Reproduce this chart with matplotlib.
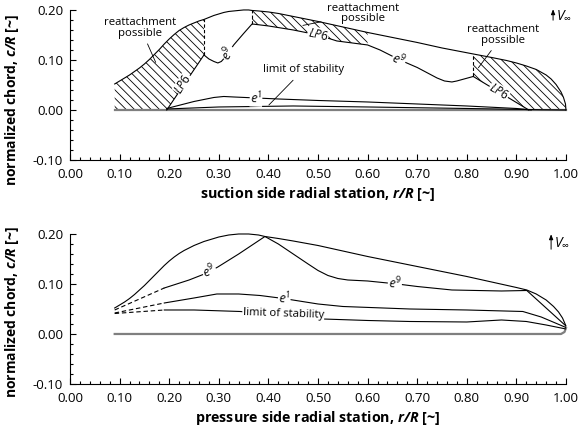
import numpy as np
import matplotlib
matplotlib.use("Agg")
import matplotlib.pyplot as plt

plt.rcParams['font.family'] = ['Open Sans', 'DejaVu Sans']
plt.rcParams['mathtext.fontset'] = 'custom'
plt.rcParams['mathtext.rm'] = 'Open Sans'
plt.rcParams['mathtext.it'] = 'Open Sans:italic'
plt.rcParams['mathtext.bf'] = 'Open Sans:bold'
plt.rcParams['mathtext.bfit'] = 'Open Sans:italic:bold'
plt.rcParams['hatch.linewidth'] = 0.6

# blade outline (chord distribution), suction side plot
out_top_r = [0.09, 0.10, 0.11, 0.12, 0.13, 0.14, 0.15, 0.16, 0.17, 0.18, 0.19, 0.20, 0.21,
             0.22, 0.23, 0.24, 0.25, 0.26, 0.27, 0.28, 0.29, 0.30, 0.31, 0.32, 0.33, 0.34,
             0.35, 0.36, 0.367, 0.38, 0.40, 0.42, 0.45, 0.50, 0.55, 0.60, 0.65, 0.70, 0.75,
             0.813, 0.85, 0.88, 0.90, 0.92, 0.94, 0.96, 0.97, 0.98, 0.99, 0.995, 0.999, 1.0]
out_top_c = [0.052, 0.058, 0.064, 0.070, 0.077, 0.084, 0.092, 0.101, 0.111, 0.121, 0.132,
             0.142, 0.151, 0.159, 0.165, 0.170, 0.174, 0.178, 0.181, 0.185, 0.189, 0.192,
             0.195, 0.197, 0.198, 0.199, 0.200, 0.200, 0.199, 0.198, 0.196, 0.193, 0.187,
             0.177, 0.166, 0.155, 0.145, 0.135, 0.124, 0.112, 0.105, 0.099, 0.094, 0.088,
             0.081, 0.070, 0.062, 0.051, 0.036, 0.025, 0.012, 0.0]
base_top_r = [0.09, 1.0]
base_top_c = [0.0, 0.0]

# transition lines, suction side
lp6_left_r = [0.195, 0.27]
lp6_left_c = [0.0, 0.11]
e9_top_r = [0.27, 0.28, 0.29, 0.298, 0.305, 0.315, 0.33, 0.35, 0.367, 0.40, 0.45, 0.50,
            0.538, 0.60, 0.625, 0.665, 0.70, 0.74, 0.755, 0.77, 0.78, 0.813]
e9_top_c = [0.11, 0.102, 0.097, 0.094, 0.097, 0.108, 0.13, 0.153, 0.172, 0.168, 0.16, 0.15,
            0.138, 0.13, 0.12, 0.10, 0.085, 0.064, 0.058, 0.056, 0.058, 0.067]
lp6_right_r = [0.813, 0.925]
lp6_right_c = [0.067, 0.0]
e1_top_r = [0.195, 0.25, 0.29, 0.31, 0.33, 0.42, 0.50, 0.60, 0.70, 0.80, 0.90, 0.93]
e1_top_c = [0.003, 0.017, 0.025, 0.027, 0.026, 0.022, 0.019, 0.016, 0.012, 0.008, 0.003, 0.0]
stab_top_r = [0.195, 0.30, 0.45, 0.60, 0.80, 0.95, 1.0]
stab_top_c = [0.002, 0.006, 0.008, 0.006, 0.003, 0.0005, 0.0]

# pressure side plot
out_bot_r = [0.09, 0.10, 0.11, 0.12, 0.13, 0.14, 0.15, 0.16, 0.17, 0.18, 0.19, 0.20, 0.21,
             0.22, 0.23, 0.24, 0.25, 0.26, 0.27, 0.28, 0.29, 0.30, 0.31, 0.32, 0.33, 0.34,
             0.35, 0.36, 0.38, 0.393, 0.42, 0.45, 0.50, 0.55, 0.60, 0.65, 0.70, 0.75, 0.80,
             0.85, 0.90, 0.921, 0.94, 0.96, 0.975, 0.985, 0.993, 1.0]
out_bot_c = [0.052, 0.058, 0.064, 0.071, 0.079, 0.088, 0.097, 0.107, 0.117, 0.127, 0.137,
             0.146, 0.154, 0.161, 0.167, 0.172, 0.177, 0.181, 0.185, 0.188, 0.191, 0.194,
             0.196, 0.198, 0.199, 0.2, 0.2, 0.2, 0.198, 0.195, 0.191, 0.186, 0.177, 0.166,
             0.155, 0.145, 0.135, 0.125, 0.115, 0.104, 0.093, 0.088, 0.080, 0.068, 0.055,
             0.044, 0.032, 0.016]
base_bot_r = [0.09, 0.99, 0.997, 1.0]
base_bot_c = [0.0, 0.0, 0.004, 0.012]
e9_bot_dash_r = [0.09, 0.19]
e9_bot_dash_c = [0.048, 0.092]
e9_bot_r = [0.19, 0.24, 0.276, 0.298, 0.34, 0.393, 0.42, 0.45, 0.48, 0.50, 0.52, 0.54,
            0.56, 0.60, 0.66, 0.70, 0.77, 0.87, 0.921, 1.0]
e9_bot_c = [0.092, 0.108, 0.122, 0.134, 0.16, 0.195, 0.18, 0.16, 0.14, 0.127, 0.117, 0.111,
            0.108, 0.106, 0.10, 0.095, 0.088, 0.086, 0.087, 0.016]
e1_bot_dash_r = [0.09, 0.19]
e1_bot_dash_c = [0.042, 0.062]
e1_bot_r = [0.19, 0.25, 0.296, 0.34, 0.383, 0.43, 0.50, 0.55, 0.685, 0.80, 0.913, 0.95, 1.0]
e1_bot_c = [0.062, 0.072, 0.08, 0.08, 0.077, 0.071, 0.06, 0.055, 0.05, 0.048, 0.045, 0.034,
            0.013]
stab_bot_dash_r = [0.09, 0.19]
stab_bot_dash_c = [0.041, 0.048]
stab_bot_r = [0.19, 0.25, 0.343, 0.42, 0.51, 0.60, 0.685, 0.80, 0.87, 0.92, 0.96, 1.0]
stab_bot_c = [0.048, 0.048, 0.045, 0.038, 0.03, 0.027, 0.025, 0.024, 0.028, 0.025, 0.018,
              0.01]

xticks = [0.0, 0.1, 0.2, 0.3, 0.4, 0.5, 0.6, 0.7, 0.8, 0.9, 1.0]
yticks = [-0.1, 0.0, 0.1, 0.2]

LW = 0.8
FS = 8.2      # annotations
EFS = 9.0     # e9 / e1 labels
TFS = 9.5     # tick labels
LFS = 10.0    # axis labels


def style_axes(ax, xlabel, ylab_y):
    ax.set_xlim(0, 1.0)
    ax.set_ylim(-0.10, 0.20)
    ax.set_xticks(xticks)
    ax.set_yticks(yticks)
    ax.set_xticks(np.arange(0, 1.001, 0.02), minor=True)
    ax.set_yticks(np.arange(-0.1, 0.2001, 0.02), minor=True)
    ax.set_xticklabels([f"{v:.2f}" for v in xticks])
    ax.set_yticklabels([f"{v:.2f}" for v in yticks])
    ax.tick_params(which='both', direction='in', labelsize=TFS, width=0.8)
    ax.tick_params(which='major', length=4)
    ax.tick_params(which='minor', length=2.5)
    ax.tick_params(axis='x', which='major', pad=6)
    ax.tick_params(axis='y', which='major', pad=5)
    for s in ['top', 'right']:
        ax.spines[s].set_visible(False)
    ax.spines['left'].set_linewidth(0.8)
    ax.spines['bottom'].set_linewidth(0.8)
    ax.set_xlabel(xlabel, fontsize=LFS + 0.3, fontweight='bold', labelpad=3)
    ax.set_ylabel(r'normalized chord, $\mathbfit{c/R}$ [~]', fontsize=LFS, fontweight='bold')
    ax.yaxis.set_label_coords(-0.098, ylab_y)


def line_label(ax, x, y, s, rot, fs=EFS):
    ax.text(x, y, s, fontsize=fs, rotation=rot, ha='center', va='center', rotation_mode='anchor',
            bbox=dict(fc='white', ec='none', pad=0.3), zorder=5)


fig = plt.figure(figsize=(5.79, 4.33), dpi=100)
ax1 = fig.add_axes([0.121, 0.6305, 0.8565, 0.3465])
ax2 = fig.add_axes([0.121, 0.1132, 0.8565, 0.3464])

# ---- suction side ----
otr = np.array(out_top_r)
otc = np.array(out_top_c)
hatch = '\\\\\\\\'

# hatched reattachment regions
m1 = otr <= 0.27
poly1_r = np.concatenate([otr[m1], lp6_left_r[::-1], [0.09]])
poly1_c = np.concatenate([otc[m1], lp6_left_c[::-1], [0.0]])
ax1.fill(poly1_r, poly1_c, facecolor='none', edgecolor='black', hatch=hatch, lw=0, zorder=1)

e9r = np.array(e9_top_r)
e9c = np.array(e9_top_c)
m2 = (otr >= 0.367) & (otr <= 0.60)
m2e = (e9r >= 0.367) & (e9r <= 0.60)
poly2_r = np.concatenate([otr[m2], e9r[m2e][::-1]])
poly2_c = np.concatenate([otc[m2], e9c[m2e][::-1]])
ax1.fill(poly2_r, poly2_c, facecolor='none', edgecolor='black', hatch=hatch, lw=0, zorder=1)

m3 = otr >= 0.813
poly3_r = np.concatenate([otr[m3], lp6_right_r[::-1]])
poly3_c = np.concatenate([otc[m3], lp6_right_c[::-1]])
ax1.fill(poly3_r, poly3_c, facecolor='none', edgecolor='black', hatch=hatch, lw=0, zorder=1)

ax1.plot(base_top_r, base_top_c, color='#7f7f7f', lw=1.6, clip_on=False, zorder=2)
ax1.plot(out_top_r, out_top_c, color='black', lw=LW, clip_on=False, zorder=3)
ax1.plot(lp6_left_r, lp6_left_c, color='black', lw=LW, zorder=3)
ax1.plot(e9_top_r, e9_top_c, color='black', lw=LW, zorder=3)
ax1.plot(lp6_right_r, lp6_right_c, color='black', lw=LW, zorder=3)
ax1.plot(e1_top_r, e1_top_c, color='black', lw=LW, zorder=3)
ax1.plot(stab_top_r, stab_top_c, color='black', lw=LW, zorder=3)

# dashed separators
for rr, c0 in [(0.27, 0.11), (0.367, 0.172), (0.813, 0.067)]:
    ax1.plot([rr, rr], [c0, np.interp(rr, otr, otc)], color='black', lw=LW, ls=(0, (3, 2)),
             zorder=3)

line_label(ax1, 0.228, 0.052, r'$LP6$', 57, fs=8.5)
line_label(ax1, 0.319, 0.114, r'$e^{9}$', 62)
line_label(ax1, 0.50, 0.151, r'$LP6$', -13, fs=8.5)
line_label(ax1, 0.663, 0.101, r'$e^{9}$', -25)
line_label(ax1, 0.865, 0.037, r'$LP6$', -31, fs=8.5)
line_label(ax1, 0.375, 0.024, r'$e^{1}$', -2)

arr = dict(arrowstyle='-', lw=0.6, color='black')
ax1.annotate('reattachment\npossible', xy=(0.175, 0.09), xytext=(0.142, 0.164), fontsize=FS,
             ha='center', va='center', linespacing=0.9, arrowprops=arr, annotation_clip=False)
ax1.annotate('reattachment\npossible', xy=(0.464, 0.168), xytext=(0.59, 0.193), fontsize=FS,
             ha='center', va='center', linespacing=0.9, arrowprops=arr, annotation_clip=False)
ax1.annotate('reattachment\npossible', xy=(0.82, 0.08), xytext=(0.873, 0.15), fontsize=FS,
             ha='center', va='center', linespacing=0.9, arrowprops=arr, annotation_clip=False)
ax1.annotate('limit of stability', xy=(0.397, 0.006), xytext=(0.47, 0.08), fontsize=FS,
             ha='center', va='center', arrowprops=arr)

ax1.annotate('', xy=(0.974, 0.207), xytext=(0.974, 0.174),
             arrowprops=dict(arrowstyle='-|>,head_length=0.3,head_width=0.12', lw=0.7,
                             color='black'),
             annotation_clip=False)
ax1.text(0.980, 0.19, r'$V_{\infty}$', fontsize=10, ha='left', va='center')

style_axes(ax1, r'suction side radial station, $\mathbfit{r/R}$ [~]', 0.40)

# ---- pressure side ----
dash = (0, (4, 2.5))
ax2.plot(base_bot_r, base_bot_c, color='#7f7f7f', lw=1.6, clip_on=False, zorder=2)
ax2.plot(out_bot_r, out_bot_c, color='black', lw=LW, clip_on=False, zorder=3)
ax2.plot(e9_bot_dash_r, e9_bot_dash_c, color='black', lw=LW, ls=dash, zorder=3)
ax2.plot(e9_bot_r, e9_bot_c, color='black', lw=LW, zorder=3)
ax2.plot(e1_bot_dash_r, e1_bot_dash_c, color='black', lw=LW, ls=dash, zorder=3)
ax2.plot(e1_bot_r, e1_bot_c, color='black', lw=LW, zorder=3)
ax2.plot(stab_bot_dash_r, stab_bot_dash_c, color='black', lw=LW, ls=dash, zorder=3)
ax2.plot(stab_bot_r, stab_bot_c, color='black', lw=LW, zorder=3)

line_label(ax2, 0.281, 0.125, r'$e^{9}$', 22)
line_label(ax2, 0.655, 0.101, r'$e^{9}$', -3)
line_label(ax2, 0.432, 0.072, r'$e^{1}$', -3)
ax2.text(0.43, 0.041, 'limit of stability', fontsize=FS, rotation=-2, ha='center', va='center',
         rotation_mode='anchor', bbox=dict(fc='white', ec='none', pad=0.3), zorder=5)

ax2.annotate('', xy=(0.97, 0.205), xytext=(0.97, 0.164),
             arrowprops=dict(arrowstyle='-|>,head_length=0.3,head_width=0.12', lw=0.7,
                             color='black'),
             annotation_clip=False)
ax2.text(0.976, 0.184, r'$V_{\infty}$', fontsize=10, ha='left', va='center')

style_axes(ax2, r'pressure side radial station, $\mathbfit{r/R}$ [~]', 0.48)

fig.savefig('out.png', dpi=100)
